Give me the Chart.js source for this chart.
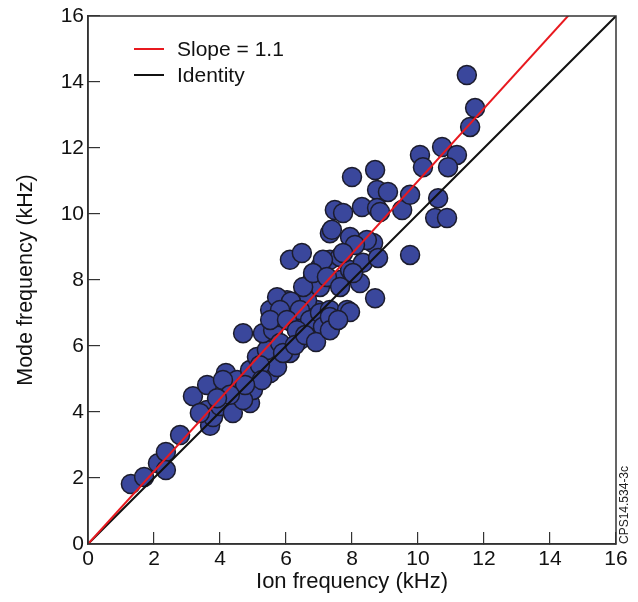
<!DOCTYPE html>
<html>
<head>
<meta charset="utf-8">
<script src="https://cdn.jsdelivr.net/npm/chart.js@4/dist/chart.umd.min.js"></script>
<style>
  html, body { margin: 0; padding: 0; background: #ffffff; }
  #wrap { width: 638px; height: 602px; }
</style>
</head>
<body>
<div id="wrap"><canvas id="c" width="638" height="602"></canvas></div>
<script>
// ---- data ----
const ionFreq = [1.30,1.70,2.12,2.36,2.36,2.79,3.18,3.61,3.61,3.70,
  3.79,4.00,4.18,4.52,4.39,4.70,4.91,5.00,4.09,4.70,
  4.91,5.12,5.42,5.52,5.73,5.30,5.61,5.52,5.82,6.03,
  5.82,6.12,6.42,6.21,6.64,6.94,6.82,7.12,6.64,5.00,
  4.70,6.12,6.48,7.33,7.94,7.33,7.64,7.03,6.82,7.03,
  6.52,7.64,7.94,8.33,8.64,8.24,8.70,5.73,6.15,6.42,
  5.82,5.52,6.03,6.73,7.03,7.33,7.85,6.33,7.12,8.00,
  8.70,8.76,9.09,10.06,10.15,7.48,7.73,8.30,8.76,9.52,
  9.76,7.39,8.45,8.09,7.73,7.12,8.79,9.76,6.82,8.03,
  11.48,11.73,11.58,10.73,11.18,10.91,10.61,10.52,10.88,7.94,
  7.33,7.24,7.64,5.21,5.91,6.27,6.58,6.91,7.33,7.58,
  5.27,4.76,4.30,3.91,3.39,8.85];
const modeFreq = [1.82,2.03,2.45,2.79,2.24,3.30,4.48,4.82,4.06,3.58,
  3.85,4.18,5.18,4.97,3.97,4.58,4.27,5.18,4.97,6.39,
  5.27,5.67,5.88,5.18,5.36,6.39,6.48,7.09,6.88,7.39,
  6.09,5.79,6.18,6.70,6.70,7.09,6.48,6.70,7.39,4.67,
  4.36,8.61,8.82,9.42,9.30,8.61,8.70,8.39,8.09,7.79,
  7.79,8.00,8.30,8.52,9.12,7.91,7.45,7.48,7.35,7.09,
  7.09,6.79,6.79,6.79,7.00,7.09,7.09,6.48,6.58,11.12,
  11.33,10.73,10.67,11.79,11.42,10.12,10.03,10.21,10.18,10.12,
  10.58,9.52,9.21,9.06,8.82,8.61,8.67,8.76,8.21,8.21,
  14.21,13.21,12.64,12.03,11.79,11.42,10.48,9.88,9.88,7.03,
  6.88,8.09,7.79,5.42,5.79,6.03,6.33,6.12,6.48,6.79,
  4.97,4.82,4.52,4.42,3.97,10.06];
const fitSlope = 1.1;
const lineX = [0, 16];
const axisTicks = [0, 2, 4, 6, 8, 10, 12, 14, 16];
const seriesLabels = ['Slope = 1.1', 'Identity'];
const xTitle = 'Ion frequency (kHz)';
const yTitle = 'Mode frequency (kHz)';
const sideNote = 'CPS14.534-3c';

// ---- build datasets ----
const scatterPts = ionFreq.map((x, i) => ({ x: x, y: modeFreq[i] }));
const slopeLine = lineX.map(x => ({ x: x, y: x * fitSlope }));
const identityLine = lineX.map(x => ({ x: x, y: x }));

const FONT = 'Liberation Sans, Arial, Helvetica, sans-serif';
const AXIS_COLOR = '#333333';

const framePlugin = {
  id: 'frameAndLegend',
  afterDraw(chart) {
    const ctx = chart.ctx;
    const a = chart.chartArea;
    ctx.save();
    // frame
    ctx.strokeStyle = AXIS_COLOR;
    ctx.lineWidth = 1.5;
    ctx.strokeRect(a.left, a.top, a.right - a.left, a.bottom - a.top);
    // legend
    ctx.font = '21px ' + FONT;
    ctx.textBaseline = 'middle';
    ctx.textAlign = 'left';
    const lx = a.left + 46, ly = a.top + 33, gap = 26;
    [0, 1].forEach(i => {
      const ds = chart.data.datasets[i];
      const y = ly + i * gap;
      ctx.strokeStyle = ds.borderColor;
      ctx.lineWidth = 2;
      ctx.beginPath();
      ctx.moveTo(lx, y);
      ctx.lineTo(lx + 30, y);
      ctx.stroke();
      ctx.fillStyle = '#111111';
      ctx.fillText(ds.label, lx + 43, y + 1);
    });
    // side note
    ctx.translate(a.right + 9, a.bottom);
    ctx.rotate(-Math.PI / 2);
    ctx.font = '12px ' + FONT;
    ctx.textAlign = 'left';
    ctx.textBaseline = 'middle';
    ctx.fillStyle = '#222222';
    ctx.fillText(sideNote, 0, 0);
    ctx.restore();
  }
};

new Chart(document.getElementById('c'), {
  type: 'scatter',
  data: {
    datasets: [
      {
        type: 'line', label: seriesLabels[0], data: slopeLine,
        borderColor: '#e8191f', borderWidth: 2, pointRadius: 0, fill: false, tension: 0
      },
      {
        type: 'line', label: seriesLabels[1], data: identityLine,
        borderColor: '#111111', borderWidth: 2, pointRadius: 0, fill: false, tension: 0
      },
      {
        label: 'Data', data: scatterPts,
        backgroundColor: '#3a479c', borderColor: '#1c1c2c', borderWidth: 1.5,
        pointRadius: 9.5, pointHoverRadius: 9.5
      }
    ]
  },
  options: {
    responsive: false,
    animation: false,
    events: [],
    layout: { padding: { top: 16, right: 22, left: 0, bottom: 0 } },
    plugins: { legend: { display: false }, tooltip: { enabled: false } },
    scales: {
      x: {
        type: 'linear', min: 0, max: 16,
        afterBuildTicks: s => { s.ticks = axisTicks.map(v => ({ value: v })); },
        afterFit: s => { s.height = 58; s.paddingLeft = 0; s.paddingRight = 0; },
        ticks: { color: '#111', font: { family: FONT, size: 21 }, padding: 15, maxRotation: 0 },
        grid: { drawOnChartArea: false, drawTicks: true, tickLength: -12, color: AXIS_COLOR, lineWidth: 1.2 },
        border: { display: true, color: AXIS_COLOR, width: 1.5 },
        title: { display: true, text: xTitle, color: '#111', font: { family: FONT, size: 22 }, padding: { top: 0, bottom: 7 } }
      },
      y: {
        type: 'linear', min: 0, max: 16,
        afterBuildTicks: s => { s.ticks = axisTicks.map(v => ({ value: v })); },
        afterFit: s => { s.width = 88; s.paddingTop = 0; s.paddingBottom = 0; },
        ticks: { color: '#111', font: { family: FONT, size: 21 }, padding: 16 },
        grid: { drawOnChartArea: false, drawTicks: true, tickLength: -12, color: AXIS_COLOR, lineWidth: 1.2 },
        border: { display: true, color: AXIS_COLOR, width: 1.5 },
        title: { display: true, text: yTitle, color: '#111', font: { family: FONT, size: 21.5 }, padding: { top: 13, bottom: 0 } }
      }
    }
  },
  plugins: [framePlugin]
});
</script>
</body>
</html>
